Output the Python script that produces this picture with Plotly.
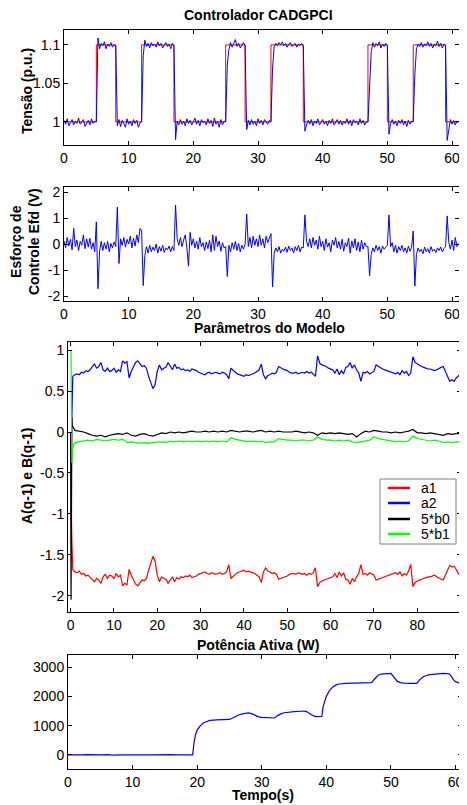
import numpy as np
import plotly.graph_objects as go

# The page body adds an 8 px margin, so the figure is 8 px smaller than the window
# and every reference pixel position is shifted by 8 px.
WIN_W, WIN_H = 467, 805
OFF = 8
W, H = WIN_W - OFF, WIN_H - OFF
FONT = "Liberation Sans, Arial, Helvetica, sans-serif"

# ---------------- Plot 1: Tensão (p.u.) ----------------
tensao_dt = 0.25
tensao = [
    1.002, 0.997, 1.004, 0.995, 0.999, 1.003, 0.996, 1.001,
    0.998, 1.005, 0.997, 1.000, 1.003, 0.994, 0.999, 1.002,
    0.996, 1.004, 0.998, 1.001, 1.000, 1.109, 1.095, 1.102,
    1.099, 1.104, 1.095, 1.101, 1.098, 1.103, 1.097, 1.100,
    1.099, 0.995, 1.003, 0.994, 1.002, 0.998, 0.993, 1.004,
    0.997, 1.001, 0.995, 1.003, 0.998, 1.002, 0.993, 0.999,
    1.000, 1.086, 1.106, 1.098, 1.102, 1.096, 1.103, 1.099,
    1.101, 1.097, 1.104, 1.099, 1.102, 1.096, 1.100, 1.103,
    1.098, 1.101, 1.095, 1.102, 1.099, 0.977, 1.001, 0.996,
    1.003, 0.997, 1.001, 0.995, 1.004, 0.998, 1.002, 0.996,
    1.000, 1.005, 0.997, 1.002, 0.995, 1.003, 0.999, 1.001,
    0.996, 1.004, 0.998, 1.002, 0.994, 1.005, 0.997, 1.001,
    0.993, 1.003, 0.996, 1.001, 1.000, 1.074, 1.094, 1.103,
    1.097, 1.101, 1.107, 1.098, 1.102, 1.096, 1.100, 1.103,
    1.099, 0.990, 1.002, 0.996, 1.003, 0.997, 1.001, 0.995,
    1.004, 0.998, 1.002, 0.996, 1.003, 0.999, 0.997, 1.002,
    1.000, 1.070, 1.098, 1.102, 1.099, 1.103, 1.100, 1.104,
    1.099, 1.102, 1.097, 1.101, 1.103, 1.098, 1.100, 1.102,
    1.097, 1.101, 1.099, 1.102, 1.099, 0.988, 0.996, 1.002,
    0.997, 1.003, 0.995, 1.001, 0.998, 1.004, 0.996, 1.000,
    1.003, 0.997, 1.001, 0.995, 1.002, 0.998, 1.004, 0.996,
    1.000, 1.003, 0.997, 1.002, 0.996, 1.001, 0.998, 1.004,
    0.997, 1.002, 0.995, 1.003, 0.999, 1.001, 0.996, 1.004,
    0.998, 1.002, 0.996, 1.000, 1.000, 1.052, 1.090, 1.103,
    1.097, 1.102, 1.099, 1.104, 1.096, 1.101, 1.098, 1.102,
    1.099, 0.984, 0.998, 1.003, 0.997, 1.001, 0.995, 1.002,
    0.998, 1.003, 0.996, 1.001, 0.994, 1.002, 0.997, 1.001,
    1.000, 1.062, 1.095, 1.101, 1.098, 1.103, 1.097, 1.101,
    1.099, 1.104, 1.098, 1.102, 1.096, 1.101, 1.099, 1.105,
    1.098, 1.102, 1.096, 1.101, 1.099, 0.976, 0.992, 1.003,
    0.997, 1.002, 0.996, 1.001, 0.999,
]
ref_t = [0, 5, 8, 12, 17, 25, 28, 32, 37, 47, 50, 54, 59, 61]
ref_v = [1.0, 1.1, 1.0, 1.1, 1.0, 1.1, 1.0, 1.1, 1.0, 1.1, 1.0, 1.1, 1.0, 1.0]

# ---------------- Plot 2: Esforço de controle Efd (V) ----------------
efd_dt = 0.25
efd = [
    0.12, -0.15, 0.25, -0.08, 0.18, -0.22, 0.60, -0.10,
    0.15, -0.25, 0.10, -0.05, 0.35, -0.18, 0.20, -0.12,
    0.22, -0.20, 0.05, -0.30, 0.85, -1.72, -0.30, 0.10,
    -0.25, 0.05, -0.20, 0.10, -0.30, 0.02, -0.15, 0.08,
    -0.10, 1.42, -0.75, 0.20, -0.05, 0.25, -0.12, 0.18,
    0.00, 0.30, -0.15, 0.22, -0.08, 0.35, 0.05, 0.60,
    0.50, -1.60, -0.45, -0.10, -0.35, -0.05, -0.30, -0.12,
    -0.25, 0.00, -0.35, -0.10, -0.28, -0.05, -0.32, -0.15,
    -0.22, -0.08, -0.30, -0.10, -0.25, 1.50, 0.20, -0.05,
    0.25, -0.10, 0.15, 0.35, -0.15, -0.85, 0.45, -0.05,
    0.20, -0.15, 0.10, -0.20, 0.25, -0.10, 0.05, -0.25,
    0.08, -0.18, 0.15, -0.30, 0.35, -0.25, 0.30, -0.10,
    0.12, -0.28, 0.05, -0.15, -0.10, -1.25, -0.05, -0.30,
    0.05, -0.20, 0.10, -0.25, 0.02, -0.30, -0.05, -0.20,
    0.00, 1.15, -0.10, 0.25, -0.15, 0.30, -0.05, 0.20,
    -0.10, 0.35, -0.05, 0.20, -0.15, 0.30, 0.05, 0.25,
    0.40, -1.65, -0.35, -0.15, -0.30, -0.10, -0.35, -0.20,
    -0.28, -0.12, -0.32, -0.08, -0.25, -0.15, -0.35, -0.10,
    -0.25, -0.05, -0.30, -0.12, -0.15, 1.12, 0.10, -0.10,
    0.20, -0.15, 0.25, -0.05, 0.15, -0.20, 0.30, -0.10,
    0.10, -0.25, 0.20, -0.12, 0.05, -0.30, 0.15, -0.05,
    0.25, -0.15, 0.10, -0.20, 0.18, -0.28, 0.05, -0.10,
    0.22, -0.35, 0.12, -0.15, 0.20, -0.25, 0.08, -0.30,
    0.15, -0.20, 0.05, -0.10, -0.10, -1.22, -0.40, -0.15,
    -0.30, -0.05, -0.25, -0.10, -0.35, -0.08, -0.20, -0.12,
    -0.05, 1.12, -0.10, 0.05, -0.30, -0.05, -0.35, -0.10,
    -0.25, -0.05, -0.30, -0.15, -0.35, -0.08, -0.28, -0.12,
    0.50, -1.62, -0.40, -0.15, -0.30, -0.20, -0.38, -0.12,
    -0.30, -0.18, -0.35, -0.10, -0.28, -0.20, -0.33, -0.15,
    -0.25, -0.12, -0.30, -0.18, -0.10, 1.08, 0.05, -0.20,
    0.15, -0.25, 0.25, -0.10, 0.05,
]

# ---------------- Plot 3: Parâmetros do Modelo ----------------
param_t_ini = [0.0, 0.1, 0.2, 0.3, 0.4]
a1_ini = [-0.95, -1.00, -1.08, -1.35, -1.58]
a2_ini = [-0.12, -0.15, -0.05, 0.30, 0.60]
b0_ini = [0.00, -2.05, -1.00, 0.18, 0.08]
b1_ini = [1.00, 1.00, 0.15, -0.38, -0.20]
a_dt = 0.5   # a1, a2 sampled every 0.5 s from 0.5 s
a1 = [
    -1.68, -1.71, -1.72, -1.70, -1.74, -1.73, -1.76, -1.75, -1.78, -1.81,
    -1.83, -1.79, -1.81, -1.85, -1.77, -1.74, -1.79, -1.75, -1.76, -1.79,
    -1.73, -1.77, -1.75, -1.88, -1.85, -1.87, -1.68, -1.75, -1.81, -1.86,
    -1.88, -1.84, -1.81, -1.82, -1.79, -1.69, -1.61, -1.52, -1.58, -1.75,
    -1.83, -1.77, -1.79, -1.80, -1.85, -1.81, -1.77, -1.83, -1.78, -1.80,
    -1.77, -1.78, -1.76, -1.77, -1.75, -1.78, -1.77, -1.76, -1.74, -1.73,
    -1.72, -1.71, -1.73, -1.74, -1.72, -1.73, -1.74, -1.73, -1.72, -1.74,
    -1.73, -1.71, -1.62, -1.79, -1.76, -1.74, -1.72, -1.71, -1.70, -1.69,
    -1.71, -1.70, -1.71, -1.72, -1.73, -1.75, -1.77, -1.84, -1.71, -1.66,
    -1.70, -1.71, -1.73, -1.72, -1.74, -1.80, -1.79, -1.78, -1.77, -1.76,
    -1.74, -1.73, -1.73, -1.74, -1.72, -1.73, -1.74, -1.73, -1.75, -1.73,
    -1.74, -1.72, -1.66, -1.89, -1.84, -1.82, -1.81, -1.80, -1.79, -1.78,
    -1.77, -1.73, -1.78, -1.71, -1.76, -1.72, -1.80, -1.81, -1.86, -1.79,
    -1.83, -1.77, -1.73, -1.62, -1.74, -1.73, -1.75, -1.72, -1.74, -1.75,
    -1.81, -1.80, -1.79, -1.78, -1.77, -1.76, -1.75, -1.74, -1.73, -1.72,
    -1.74, -1.71, -1.76, -1.73, -1.75, -1.70, -1.62, -1.89, -1.84, -1.82,
    -1.81, -1.80, -1.79, -1.78, -1.77, -1.77, -1.76, -1.75, -1.77, -1.79,
    -1.80, -1.81, -1.75, -1.67, -1.63, -1.65, -1.64, -1.68, -1.73, -1.76,
]
a2 = [
    0.68, 0.70, 0.71, 0.70, 0.73, 0.72, 0.75, 0.74, 0.76, 0.80,
    0.83, 0.78, 0.80, 0.85, 0.76, 0.74, 0.78, 0.74, 0.75, 0.78,
    0.73, 0.76, 0.74, 0.87, 0.84, 0.86, 0.66, 0.74, 0.80, 0.85,
    0.87, 0.83, 0.80, 0.81, 0.78, 0.68, 0.60, 0.53, 0.58, 0.74,
    0.82, 0.76, 0.78, 0.79, 0.85, 0.80, 0.76, 0.83, 0.78, 0.79,
    0.76, 0.77, 0.75, 0.76, 0.74, 0.77, 0.76, 0.75, 0.73, 0.72,
    0.71, 0.70, 0.72, 0.73, 0.71, 0.72, 0.73, 0.72, 0.71, 0.73,
    0.72, 0.70, 0.65, 0.78, 0.75, 0.73, 0.71, 0.70, 0.69, 0.68,
    0.70, 0.69, 0.70, 0.71, 0.72, 0.74, 0.76, 0.83, 0.70, 0.65,
    0.69, 0.70, 0.72, 0.71, 0.73, 0.80, 0.78, 0.77, 0.76, 0.75,
    0.73, 0.72, 0.72, 0.73, 0.71, 0.72, 0.73, 0.72, 0.74, 0.72,
    0.73, 0.71, 0.68, 0.93, 0.84, 0.82, 0.81, 0.80, 0.78, 0.77,
    0.76, 0.72, 0.77, 0.70, 0.75, 0.71, 0.79, 0.80, 0.85, 0.78,
    0.82, 0.76, 0.72, 0.62, 0.73, 0.72, 0.74, 0.71, 0.73, 0.74,
    0.82, 0.80, 0.79, 0.77, 0.76, 0.75, 0.74, 0.73, 0.72, 0.71,
    0.73, 0.70, 0.75, 0.72, 0.74, 0.69, 0.72, 0.92, 0.85, 0.83,
    0.81, 0.80, 0.79, 0.78, 0.77, 0.77, 0.76, 0.75, 0.76, 0.78,
    0.79, 0.80, 0.74, 0.66, 0.62, 0.64, 0.62, 0.66, 0.69, 0.71,
]
b_dt = 1.0   # b0, b1 sampled every 1 s from 1 s
b0 = [
    0.02, 0.01, 0.00, -0.02, -0.04, -0.05, -0.04, -0.06, -0.04, -0.03,
    -0.02, -0.03, -0.01, -0.04, -0.05, -0.03, -0.02, -0.04, -0.05, -0.03,
    -0.01, -0.02, 0.00, -0.01, 0.00, -0.01, 0.00, 0.01, 0.00, 0.00,
    0.01, 0.00, 0.01, 0.00, 0.01, 0.00, 0.02, 0.01, 0.00, 0.01,
    0.01, 0.00, 0.01, 0.02, 0.00, 0.01, 0.00, 0.01, 0.00, 0.00,
    0.00, 0.01, 0.00, -0.01, 0.00, -0.01, -0.04, -0.01, -0.02, -0.01,
    -0.02, -0.01, -0.02, -0.03, -0.02, -0.06, -0.02, 0.01, 0.00, 0.02,
    0.01, 0.00, 0.00, -0.01, 0.00, -0.01, 0.00, 0.01, 0.03, -0.01,
    -0.01, -0.02, -0.01, -0.02, -0.03, -0.04, -0.02, -0.03, -0.02, -0.02,
]
b1 = [
    -0.13, -0.12, -0.11, -0.10, -0.11, -0.09, -0.10, -0.11, -0.10, -0.09,
    -0.10, -0.09, -0.13, -0.12, -0.13, -0.14, -0.13, -0.14, -0.13, -0.12,
    -0.12, -0.13, -0.11, -0.12, -0.11, -0.12, -0.11, -0.12, -0.11, -0.12,
    -0.11, -0.12, -0.11, -0.12, -0.11, -0.12, -0.07, -0.09, -0.10, -0.11,
    -0.12, -0.11, -0.12, -0.11, -0.13, -0.12, -0.12, -0.08, -0.09, -0.10,
    -0.10, -0.11, -0.10, -0.10, -0.11, -0.10, -0.06, -0.09, -0.10, -0.10,
    -0.11, -0.10, -0.11, -0.10, -0.12, -0.13, -0.12, -0.11, -0.10, -0.06,
    -0.08, -0.09, -0.10, -0.11, -0.12, -0.11, -0.12, -0.11, -0.05, -0.08,
    -0.09, -0.10, -0.11, -0.10, -0.11, -0.13, -0.12, -0.13, -0.12, -0.12,
]
param_names = ["a1", "a2", "5*b0", "5*b1"]
param_colors = ["#ff0000", "#0000ff", "#000000", "#00ff00"]

# ---------------- Plot 4: Potência Ativa (W) ----------------
pot_t = [0, 1, 2, 3, 4, 5, 6, 7, 8, 9, 10, 11, 12, 13, 14, 15, 16, 17, 18, 19, 19.3,
         19.5, 19.75, 20, 20.5, 21, 21.5, 22, 23, 24, 25,
         25.5, 26, 26.5, 27, 27.5, 28, 28.5, 29, 29.5, 30, 31, 32,
         32.5, 33, 33.5, 34, 35, 36, 36.7, 37, 37.5, 38, 38.5, 39, 39.3,
         39.5, 39.75, 40, 40.5, 41, 41.5, 42, 43, 44, 45, 46, 47,
         47.5, 48, 48.5, 49, 50, 50.3, 50.7, 51, 51.5, 52, 53, 54,
         54.5, 55, 55.5, 56, 57, 58, 59, 59.3, 59.7, 60, 60.5, 61]
pot_w = [5, -5, 0, 8, -3, 2, 10, -8, 0, 5, 15, -5, 5, 0, 8, 3, 10, 5, 8, 2, 5,
         400, 700, 850, 1000, 1100, 1150, 1180, 1195, 1200, 1210,
         1260, 1320, 1370, 1400, 1420, 1435, 1400, 1340, 1300, 1280, 1265, 1260,
         1350, 1410, 1440, 1460, 1480, 1490, 1495, 1470, 1400, 1330, 1305, 1300, 1310,
         1650, 1850, 2000, 2200, 2320, 2390, 2420, 2440, 2450, 2450, 2460, 2470,
         2600, 2720, 2760, 2775, 2785, 2700, 2580, 2510, 2470, 2450, 2440, 2440,
         2580, 2670, 2710, 2740, 2760, 2780, 2770, 2700, 2560, 2500, 2460, 2430]

assert len(tensao) == 245 and len(efd) == 245
assert len(a1) == 180 and len(a2) == 180 and len(b0) == 90 and len(b1) == 90
assert len(pot_t) == len(pot_w)

# ---------------- Build figure ----------------
t_v = np.arange(len(tensao)) * tensao_dt
t_e = np.arange(len(efd)) * efd_dt
t_a = param_t_ini + list(np.arange(1, len(a1) + 1) * a_dt)
t_b = param_t_ini + list(np.arange(1, len(b0) + 1) * b_dt)


def px(x):
    return (x - OFF) / W


def py(y):
    return 1 - (y - OFF) / H


fig = go.Figure()
fig.add_trace(go.Scatter(x=ref_t, y=ref_v, mode="lines", line=dict(color="#ff0000", width=1, shape="hv"),
                         xaxis="x", yaxis="y", showlegend=False))
fig.add_trace(go.Scatter(x=t_v, y=tensao, mode="lines", line=dict(color="#0000ff", width=1),
                         xaxis="x", yaxis="y", showlegend=False))
fig.add_trace(go.Scatter(x=t_e, y=efd, mode="lines", line=dict(color="#0000ff", width=1),
                         xaxis="x2", yaxis="y2", showlegend=False))
param_series = [(t_a, a1_ini + a1), (t_a, a2_ini + a2), (t_b, b0_ini + b0), (t_b, b1_ini + b1)]
for (tt, vv), nm, col in zip(param_series, param_names, param_colors):
    fig.add_trace(go.Scatter(x=tt, y=vv, mode="lines", name=nm, line=dict(color=col, width=1.2),
                             xaxis="x3", yaxis="y3", showlegend=False))
fig.add_trace(go.Scatter(x=pot_t, y=pot_w, mode="lines", line=dict(color="#0000ff", width=1.2),
                         xaxis="x4", yaxis="y4", showlegend=False))

base_ax = dict(showline=True, linecolor="black", linewidth=1, mirror="allticks", ticks="inside",
               ticklen=4, tickcolor="black", showgrid=False, zeroline=False, automargin=False,
               tickfont=dict(family=FONT, size=14, color="black"))

x_ticks_60 = [0, 10, 20, 30, 40, 50, 60]
x_ticks_90 = [0, 10, 20, 30, 40, 50, 60, 70, 80, 90]

fig.update_layout(
    width=W, height=H, margin=dict(l=0, r=0, t=0, b=0, autoexpand=False),
    paper_bgcolor="white", plot_bgcolor="white", showlegend=False,
    font=dict(family=FONT, size=14, color="black"),
    xaxis=dict(base_ax, domain=[px(64), px(458.5)], range=[0, 61], tickvals=x_ticks_60, anchor="y"),
    yaxis=dict(base_ax, domain=[py(145), py(29.5)], range=[0.97, 1.12], tickvals=[1, 1.05, 1.1],
               ticktext=["1", "1.05", "1.1"], anchor="x"),
    xaxis2=dict(base_ax, domain=[px(64), px(458.5)], range=[0, 61], tickvals=x_ticks_60, anchor="y2"),
    yaxis2=dict(base_ax, domain=[py(301.2), py(186.8)], range=[-2.2, 2.2], tickvals=[-2, -1, 0, 1, 2],
                ticktext=["-2", "-1", "0", "1", "2"], anchor="x2"),
    xaxis3=dict(base_ax, domain=[px(68), px(461)], range=[-0.6, 90.1], tickvals=x_ticks_90, anchor="y3"),
    yaxis3=dict(base_ax, domain=[py(612), py(342)], range=[-2.2, 1.1],
                tickvals=[-2, -1.5, -1, -0.5, 0, 0.5, 1],
                ticktext=["-2", "-1.5", "-1", "-0.5", "0", "0.5", "1"], anchor="x3"),
    xaxis4=dict(base_ax, domain=[px(68), px(462)], range=[0, 61], tickvals=x_ticks_60, anchor="y4"),
    yaxis4=dict(base_ax, domain=[py(769), py(655)], range=[-480, 3410], tickvals=[0, 1000, 2000, 3000],
                ticktext=["0", "1000", "2000", "3000"], anchor="x4"),
)


def ann(text, x, y, angle=0, size=14, bold=True, xanchor="center"):
    fig.add_annotation(text=("<b>%s</b>" % text) if bold else text, x=px(x), y=py(y),
                       xref="paper", yref="paper", showarrow=False, textangle=angle,
                       xanchor=xanchor, yanchor="middle",
                       font=dict(family=FONT, size=size, color="black"))


ann("Controlador CADGPCI", 258, 15)
ann("Parâmetros do Modelo", 269, 328)
ann("Potência Ativa (W)", 258, 645)
ann("Tempo(s)", 263, 795)
ann("Tensão (p.u.)", 27, 91, angle=-90)
ann("Esforço de<br>Controle Efd (V)", 25, 242, angle=-90)
ann("A(q-1) e B(q-1)", 27, 476, angle=-90)

# manual legend box for the parameter plot
fig.add_shape(type="rect", xref="paper", yref="paper", x0=px(380), x1=px(456), y0=py(544), y1=py(479),
              line=dict(color="#808080", width=1), fillcolor="white", layer="above")
rows = [488, 503, 519, 534]
for nm, col, ry in zip(param_names, param_colors, rows):
    fig.add_shape(type="line", xref="paper", yref="paper", x0=px(388), x1=px(410), y0=py(ry), y1=py(ry),
                  line=dict(color=col, width=2.5), layer="above")
    ann(nm, 419, ry, bold=False, xanchor="left")

fig.write_html("out.html")
